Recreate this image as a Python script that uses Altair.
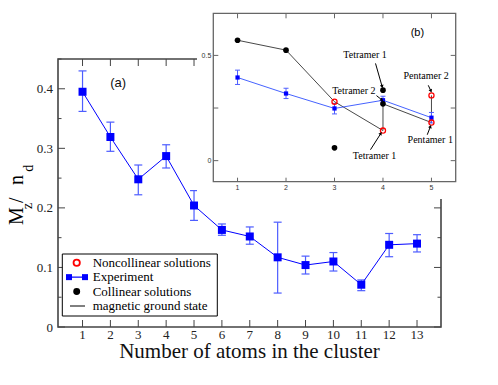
import math
import altair as alt
import pandas as pd

# ---------------- data ----------------
n_atoms = [1, 2, 3, 4, 5, 6, 7, 8, 9, 10, 11, 12, 13]
exp_mz = [0.395, 0.319, 0.248, 0.287, 0.204, 0.163, 0.152, 0.117, 0.104, 0.110, 0.071, 0.138, 0.140]
exp_hi = [0.430, 0.344, 0.272, 0.306, 0.229, 0.173, 0.168, 0.176, 0.119, 0.125, 0.079, 0.157, 0.155]
exp_lo = [0.362, 0.295, 0.222, 0.267, 0.179, 0.154, 0.139, 0.057, 0.089, 0.094, 0.061, 0.118, 0.126]

inset_n = [1, 2, 3, 4, 5]
col_n = [1, 2, 3, 4, 4]
col_mz = [0.572, 0.525, 0.061, 0.335, 0.270]
ncol_n = [3, 4, 5, 5]
ncol_mz = [0.280, 0.143, 0.310, 0.181]
gs_n = [1, 2, 3, 4, 4, 5, 5]
gs_mz = [0.572, 0.525, 0.280, 0.143, 0.270, 0.181, 0.310]

ann_text = ["Tetramer 1", "Tetramer 2", "Pentamer 2", "Pentamer 1", "Tetramer 1"]
ann_tx = [3.63, 3.40, 4.89, 4.975, 3.825]
ann_ty = [0.500, 0.333, 0.401, 0.099, 0.024]
arr_x0 = [3.846, 3.866, 4.934, 4.913, 3.742]
arr_y0 = [0.462, 0.309, 0.358, 0.123, 0.052]
arr_x1 = [3.98, 3.97, 4.985, 4.975, 3.95]
arr_y1 = [0.354, 0.290, 0.333, 0.160, 0.127]

legend_labels = ["Noncollinear solutions", "Experiment", "Collinear solutions", "magnetic ground state"]

main_xticks = n_atoms
main_ymajor = [0, 0.1, 0.2, 0.3, 0.4]
main_yminor = [0.05, 0.15, 0.25, 0.35, 0.45]
inset_xticks = [1, 2, 3, 4, 5]
inset_yticks = [0, 0.25, 0.5]
inset_ylabels = [0, 0.5]

# ---------------- geometry / styles ----------------
W, H = 383, 268
SERIF = "Liberation Serif"
SANS = "Liberation Sans"
BLUE = "#0000ff"
EB = "#4d5dff"
FRAME = "#444444"
IFRAME = "#666666"

FX = alt.Scale(domain=[0.12, 13.86], nice=False, zero=False)
FY = alt.Scale(domain=[0, 0.45], nice=False, zero=False)

IXD, IXR = [0.5, 5.5], [155.3, 397.7]
IYD, IYR = [-0.1, 0.7], [122.7, -45.7]
IX = alt.Scale(domain=IXD, range=IXR, nice=False, zero=False)
IY = alt.Scale(domain=IYD, range=IYR, nice=False, zero=False)


def ipx(x):
    return IXR[0] + (x - IXD[0]) / (IXD[1] - IXD[0]) * (IXR[1] - IXR[0])


def ipy(y):
    return IYR[0] + (y - IYD[0]) / (IYD[1] - IYD[0]) * (IYR[1] - IYR[0])


one = pd.DataFrame({"a": [0]})

# ---------------- main panel ----------------
main_df = pd.DataFrame({"n": n_atoms, "mz": exp_mz, "hi": exp_hi, "lo": exp_lo})
xn = alt.X("n:Q", scale=FX, axis=None)
yn = alt.Y("mz:Q", scale=FY, axis=None)

base = alt.Chart(main_df)
m_err = base.mark_rule(color=EB, strokeWidth=1.2).encode(
    x=xn, y=alt.Y("lo:Q", scale=FY, axis=None), y2="hi:Q")
m_cap_hi = base.mark_tick(orient="horizontal", size=8, thickness=1.2, color=EB, opacity=1).encode(
    x=xn, y=alt.Y("hi:Q", scale=FY, axis=None))
m_cap_lo = base.mark_tick(orient="horizontal", size=8, thickness=1.2, color=EB, opacity=1).encode(
    x=xn, y=alt.Y("lo:Q", scale=FY, axis=None))
m_line = base.mark_line(color=BLUE, strokeWidth=1).encode(x=xn, y=yn)
m_pts = base.mark_point(shape="square", filled=True, size=64, color=BLUE, opacity=1).encode(x=xn, y=yn)

mx_df = pd.DataFrame({"t": main_xticks})
my_df = pd.DataFrame({"t": main_ymajor})
mym_df = pd.DataFrame({"t": main_yminor})
tx = alt.X("t:Q", scale=FX, axis=None)
ty = alt.Y("t:Q", scale=FY, axis=None)
tick_bottom = alt.Chart(mx_df).mark_rule(color=FRAME, strokeWidth=1).encode(x=tx, y=alt.value(H), y2=alt.value(H - 7))
tick_top = alt.Chart(mx_df).mark_rule(color=FRAME, strokeWidth=1).encode(x=tx, y=alt.value(0), y2=alt.value(7))
tick_left = alt.Chart(my_df).mark_rule(color=FRAME, strokeWidth=1).encode(y=ty, x=alt.value(0), x2=alt.value(7))
tick_right = alt.Chart(my_df).mark_rule(color=FRAME, strokeWidth=1).encode(y=ty, x=alt.value(W), x2=alt.value(W - 7))
tick_left_m = alt.Chart(mym_df).mark_rule(color=FRAME, strokeWidth=1).encode(y=ty, x=alt.value(0), x2=alt.value(3.5))
tick_right_m = alt.Chart(mym_df).mark_rule(color=FRAME, strokeWidth=1).encode(y=ty, x=alt.value(W), x2=alt.value(W - 3.5))

# tick labels and axis title (drawn as text through the scales)
lab_x = alt.Chart(mx_df).mark_text(font=SERIF, fontSize=13, baseline="alphabetic", color="#222").encode(
    x=tx, y=alt.value(H + 12.3), text=alt.Text("t:Q", format="d"))
lab_y = alt.Chart(my_df).mark_text(font=SERIF, fontSize=13, baseline="alphabetic", align="right",
                                   dy=4.5, color="#222").encode(
    y=ty, x=alt.value(-5), text=alt.Text("t:Q", format=".1~f"))
title_x = alt.Chart(one).mark_text(font=SERIF, fontSize=21, baseline="alphabetic", align="center",
                                   color="#111").encode(
    x=alt.value(W / 2), y=alt.value(299), text=alt.value("Number of atoms in the cluster"))

lab_a = alt.Chart(pd.DataFrame({"n": [2.28], "mz": [0.4095], "t": ["(a)"]})).mark_text(
    font=SANS, fontSize=13, color="#111").encode(x=xn, y=yn, text="t:N")

main = alt.layer(m_err, m_cap_hi, m_cap_lo, m_line, m_pts,
                 tick_bottom, tick_top, tick_left, tick_right, tick_left_m, tick_right_m,
                 lab_x, lab_y, title_x, lab_a)

# ---------------- inset panel ----------------
in_bg = alt.Chart(one).mark_rect(fill="white").encode(
    x=alt.value(139), x2=alt.value(420), y=alt.value(-51), y2=alt.value(140))

frame_df = pd.DataFrame({"x0": [IXD[0]], "x1": [IXD[1]], "y0": [IYD[0]], "y1": [IYD[1]]})
in_frame = alt.Chart(frame_df).mark_rect(fill="white", stroke=IFRAME, strokeWidth=1.3).encode(
    x=alt.X("x0:Q", scale=IX, axis=None), x2="x1:Q",
    y=alt.Y("y0:Q", scale=IY, axis=None), y2="y1:Q")

ixt = pd.DataFrame({"t": inset_xticks})
iyt = pd.DataFrame({"t": inset_yticks})
iyl = pd.DataFrame({"t": inset_ylabels})
itx = alt.X("t:Q", scale=IX, axis=None)
ity = alt.Y("t:Q", scale=IY, axis=None)
in_tb = alt.Chart(ixt).mark_rule(color=IFRAME, strokeWidth=1).encode(x=itx, y=alt.value(IYR[0]), y2=alt.value(IYR[0] - 4))
in_tt = alt.Chart(ixt).mark_rule(color=IFRAME, strokeWidth=1).encode(x=itx, y=alt.value(IYR[1]), y2=alt.value(IYR[1] + 5))
in_tl = alt.Chart(iyt).mark_rule(color=IFRAME, strokeWidth=1).encode(y=ity, x=alt.value(IXR[0]), x2=alt.value(IXR[0] + 5))
in_tr = alt.Chart(iyt).mark_rule(color=IFRAME, strokeWidth=1).encode(y=ity, x=alt.value(IXR[1]), x2=alt.value(IXR[1] - 5))
in_lx = alt.Chart(ixt).mark_text(font=SANS, fontSize=7, baseline="alphabetic", color="#333").encode(
    x=itx, y=alt.value(IYR[0] + 8), text=alt.Text("t:Q", format="d"))
in_ly = alt.Chart(iyl).mark_text(font=SANS, fontSize=7, baseline="alphabetic", align="right", dy=2.5,
                                 color="#333").encode(
    y=ity, x=alt.value(IXR[0] - 2), text=alt.Text("t:Q", format=".1~f"))

ix = alt.X("n:Q", scale=IX, axis=None)
iy = alt.Y("mz:Q", scale=IY, axis=None)

gs_df = pd.DataFrame({"n": gs_n, "mz": gs_mz, "o": list(range(len(gs_n)))})
in_gs = alt.Chart(gs_df).mark_line(color="#333333", strokeWidth=0.9).encode(x=ix, y=iy, order="o:Q")

iexp = main_df[main_df["n"].isin(inset_n)]
ib = alt.Chart(iexp)
in_err = ib.mark_rule(color=EB, strokeWidth=1).encode(x=ix, y=alt.Y("lo:Q", scale=IY, axis=None), y2="hi:Q")
in_cap_hi = ib.mark_tick(orient="horizontal", size=5, thickness=1, color=EB, opacity=1).encode(
    x=ix, y=alt.Y("hi:Q", scale=IY, axis=None))
in_cap_lo = ib.mark_tick(orient="horizontal", size=5, thickness=1, color=EB, opacity=1).encode(
    x=ix, y=alt.Y("lo:Q", scale=IY, axis=None))
in_line = ib.mark_line(color="#3050ff", strokeWidth=0.9).encode(x=ix, y=iy)
in_pts = ib.mark_point(shape="square", filled=True, size=18, color=BLUE, opacity=1).encode(x=ix, y=iy)

col_df = pd.DataFrame({"n": col_n, "mz": col_mz})
in_col = alt.Chart(col_df).mark_point(shape="circle", filled=True, size=32, color="black", opacity=1).encode(x=ix, y=iy)
ncol_df = pd.DataFrame({"n": ncol_n, "mz": ncol_mz})
in_ncol = alt.Chart(ncol_df).mark_point(shape="circle", filled=False, size=26, color="#ff0000",
                                        strokeWidth=1.3, opacity=1).encode(x=ix, y=iy)

angles = []
for a0, b0, a1, b1 in zip(arr_x0, arr_y0, arr_x1, arr_y1):
    dx = ipx(a1) - ipx(a0)
    dy = ipy(b1) - ipy(b0)
    angles.append(math.degrees(math.atan2(dx, -dy)) % 360)
arr_df = pd.DataFrame({"x0": arr_x0, "y0": arr_y0, "x1": arr_x1, "y1": arr_y1, "ang": angles})
in_arr = alt.Chart(arr_df).mark_rule(color="black", strokeWidth=1).encode(
    x=alt.X("x0:Q", scale=IX, axis=None), y=alt.Y("y0:Q", scale=IY, axis=None), x2="x1:Q", y2="y1:Q")
in_head = alt.Chart(arr_df).mark_point(shape="triangle", filled=True, size=14, color="black", opacity=1).encode(
    x=alt.X("x1:Q", scale=IX, axis=None), y=alt.Y("y1:Q", scale=IY, axis=None),
    angle=alt.Angle("ang:Q", scale=None))

ann_df = pd.DataFrame({"n": ann_tx, "mz": ann_ty, "t": ann_text})
in_ann = alt.Chart(ann_df).mark_text(font=SERIF, fontSize=10, color="black").encode(x=ix, y=iy, text="t:N")
in_b = alt.Chart(pd.DataFrame({"n": [4.71], "mz": [0.606], "t": ["(b)"]})).mark_text(
    font=SANS, fontSize=11, color="black").encode(x=ix, y=iy, text="t:N")

inset = alt.layer(in_bg, in_frame, in_tb, in_tt, in_tl, in_tr, in_lx, in_ly, in_gs, in_err, in_cap_hi,
                  in_cap_lo, in_line, in_pts, in_col, in_ncol, in_arr, in_head, in_ann, in_b)

# ---------------- legend + y title ----------------
leg_df = pd.DataFrame({"label": legend_labels, "row": [0, 1, 2, 3]})
LY = alt.Scale(domain=[0, 3], range=[203.7, 247.0], nice=False, zero=False)
ly = alt.Y("row:Q", scale=LY, axis=None)
lb = alt.Chart(leg_df)
leg_box = alt.Chart(one).mark_rect(fill="white", stroke="black", strokeWidth=1).encode(
    x=alt.value(4.3), x2=alt.value(159.3), y=alt.value(195), y2=alt.value(257))
leg_text = lb.mark_text(font=SERIF, fontSize=13, align="left", baseline="middle", color="black").encode(
    x=alt.value(34.7), y=ly, text="label:N")
leg_nc = lb.transform_filter("datum.row == 0").mark_point(
    shape="circle", filled=False, size=40, color="#ff0000", strokeWidth=1.8, opacity=1).encode(x=alt.value(18.7), y=ly)
leg_e_line = lb.transform_filter("datum.row == 1").mark_rule(color=BLUE, strokeWidth=1.2).encode(
    x=alt.value(11), x2=alt.value(27), y=ly)
leg_e1 = lb.transform_filter("datum.row == 1").mark_point(
    shape="square", filled=True, size=36, color=BLUE, opacity=1).encode(x=alt.value(11), y=ly)
leg_e2 = lb.transform_filter("datum.row == 1").mark_point(
    shape="square", filled=True, size=36, color=BLUE, opacity=1).encode(x=alt.value(27), y=ly)
leg_c = lb.transform_filter("datum.row == 2").mark_point(
    shape="circle", filled=True, size=48, color="black", opacity=1).encode(x=alt.value(18.7), y=ly)
leg_gs = lb.transform_filter("datum.row == 3").mark_rule(color="black", strokeWidth=1).encode(
    x=alt.value(12), x2=alt.value(27), y=ly)


def ytitle(txt, x, y, size):
    return alt.Chart(one).mark_text(font=SERIF, fontSize=size, angle=270, align="left",
                                    baseline="alphabetic", color="black").encode(
        x=alt.value(x), y=alt.value(y), text=alt.value(txt))


yt = [ytitle("M", -34.7, 166, 20), ytitle("z", -26.3, 150, 14), ytitle("/", -34.7, 144, 20),
      ytitle("n", -34.7, 126, 20), ytitle("d", -24.7, 112.7, 14)]

legend = alt.layer(leg_box, leg_e_line, leg_nc, leg_e1, leg_e2, leg_c, leg_gs, leg_text, *yt)

chart = alt.layer(main, inset, legend).resolve_scale(
    x="independent", y="independent"
).properties(
    width=W, height=H,
    padding={"left": 50, "top": 51, "right": 49, "bottom": 50},
    autosize=alt.AutoSizeParams(type="none"),
).configure_view(stroke=FRAME, strokeWidth=1.6)

chart.save("out.html", embed_options={"renderer": "svg", "actions": False})
